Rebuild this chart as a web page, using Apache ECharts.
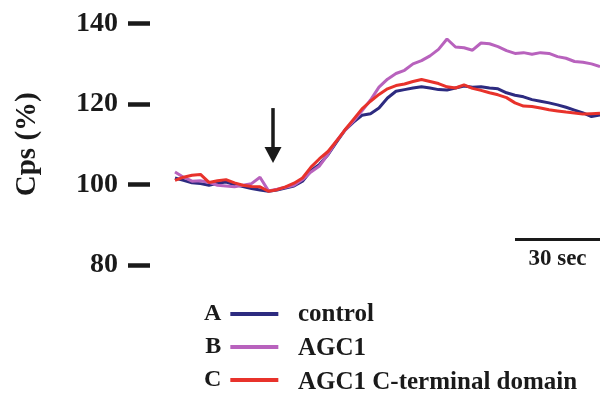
<!DOCTYPE html>
<html>
<head>
<meta charset="utf-8">
<script src="https://cdn.jsdelivr.net/npm/echarts@6/dist/echarts.min.js"></script>
<style>html,body{margin:0;padding:0;background:#fff}#c{width:600px;height:399px}</style>
</head>
<body>
<div id="c"></div>
<script>
// time (sec) sampled every 3 s
var times = [0,3,6,9,12,15,18,21,24,27,30,33,36,39,42,45,48,51,54,57,60,63,66,69,72,75,78,81,84,87,90,93,96,99,102,105,108,111,114,117,120,123,126,129,132,135,138,141,144,147,150];
var controlVals = [101.6,101.0,100.4,100.2,99.8,100.3,100.6,100.0,99.5,99.0,98.6,98.3,98.6,99.1,99.6,100.8,103.4,105.0,107.4,110.5,113.5,115.5,117.2,117.6,119.0,121.5,123.2,123.6,124.0,124.3,124.0,123.6,123.5,124.0,124.5,124.2,124.3,124.0,123.8,122.8,122.2,121.8,121.1,120.7,120.3,119.8,119.2,118.5,117.8,116.9,117.3];
var agc1Vals = [103.1,101.8,100.8,100.9,100.5,99.8,99.6,99.4,99.8,100.2,101.8,98.4,98.8,99.3,99.8,101.2,103.1,104.6,107.5,110.8,113.5,115.8,118.3,121.0,124.2,126.2,127.6,128.4,130.0,130.8,132.0,133.6,136.2,134.2,134.0,133.4,135.2,135.0,134.3,133.3,132.6,132.8,132.4,132.8,132.6,131.8,131.4,130.6,130.4,130.0,129.3];
var ctermVals = [101.0,101.8,102.3,102.5,100.5,100.9,101.2,100.4,99.8,99.5,99.4,98.3,98.7,99.4,100.3,101.6,104.3,106.4,108.2,110.8,113.6,116.2,118.8,120.7,122.4,123.8,124.6,125.0,125.6,126.1,125.6,125.1,124.3,124.0,124.8,123.9,123.4,122.8,122.3,121.6,120.3,119.5,119.4,119.0,118.6,118.3,118.0,117.8,117.5,117.6,117.7];
var seriesNames = ['control','AGC1','AGC1 C-terminal domain'];
var seriesLetters = ['A','B','C'];
var yTicks = [80,100,120,140];
var xRange = [-8.82, 150];
var arrowTime = 34.6, arrowFrom = 119.0, arrowTo = 107.3;
var scaleBarFrom = 120, scaleBarTo = 150, scaleBarY = 86.4, scaleBarLabel = '30 sec';

var FONT = "'Liberation Serif','Times New Roman',serif";
var colors = ['#2d2b80','#b862bd','#e8322b'];
function pairs(v){ return times.map(function(t,i){return [t, v[i]];}); }
var vals = [controlVals, agc1Vals, ctermVals];
var letterMap = {};
seriesNames.forEach(function(n,i){ letterMap[n] = seriesLetters[i]; });

var series = seriesNames.map(function(n,i){
  return {
    name: n, type: 'line', data: pairs(vals[i]), showSymbol: false, symbol: 'none',
    lineStyle: {color: colors[i], width: 3}, itemStyle: {color: colors[i]},
    z: 2 + i, animation: false
  };
});
series[2].markLine = {
  silent: true, animation: false,
  data: [
    [{coord: [arrowTime, arrowFrom], symbol: 'none', lineStyle: {color: '#1a1a1a', width: 3.5}, label: {show: false}},
     {coord: [arrowTime, arrowTo], symbol: 'triangle', symbolSize: [17, 16]}],
    [{coord: [scaleBarFrom, scaleBarY], symbol: 'none', lineStyle: {color: '#1a1a1a', width: 3},
      label: {show: true, formatter: scaleBarLabel, position: 'insideMiddleBottom', distance: 8, fontFamily: FONT, fontWeight: 'bold', fontSize: 23, color: '#1a1a1a'}},
     {coord: [scaleBarTo, scaleBarY], symbol: 'none'}]
  ],
  lineStyle: {color: '#1a1a1a', width: 3, type: 'solid'},
  label: {show: false}
};

var chart = echarts.init(document.getElementById('c'), null, {renderer: 'canvas'});
chart.setOption({
  animation: false,
  backgroundColor: '#fff',
  grid: {left: 150, right: 0, top: 23.7, bottom: 134.2, containLabel: false},
  xAxis: {type: 'value', min: xRange[0], max: xRange[1], show: false},
  yAxis: {
    type: 'value', min: yTicks[0], max: yTicks[yTicks.length-1], interval: 20,
    axisLine: {show: false, onZero: false},
    axisTick: {show: true, length: 22, lineStyle: {color: '#1a1a1a', width: 4.5}},
    splitLine: {show: false},
    axisLabel: {margin: 32, fontFamily: FONT, fontWeight: 'bold', fontSize: 28, color: '#1a1a1a'},
    name: 'Cps (%)', nameLocation: 'middle', nameGap: 108, nameRotate: 90,
    nameTextStyle: {fontFamily: FONT, fontWeight: 'bold', fontSize: 29, color: '#1a1a1a'}
  },
  legend: [
    {
      data: seriesNames, orient: 'vertical', left: 204, top: 302, padding: 0, align: 'right',
      icon: 'rect', itemWidth: 48, itemHeight: 4, itemGap: 9, selectedMode: false,
      formatter: function(n){ return '{l|' + letterMap[n] + '}'; },
      textStyle: {fontFamily: FONT, fontWeight: 'bold', fontSize: 24, lineHeight: 24, color: '#1a1a1a',
        rich: {l: {fontFamily: FONT, fontWeight: 'bold', fontSize: 24, lineHeight: 24, color: '#1a1a1a', padding: [0, 4, 0, 0]}}}
    },
    {
      data: seriesNames, orient: 'vertical', left: 293, top: 302, padding: 0, align: 'left',
      icon: 'rect', itemWidth: 0, itemHeight: 0, itemGap: 9, selectedMode: false,
      textStyle: {fontFamily: FONT, fontWeight: 'bold', fontSize: 25, lineHeight: 24, color: '#1a1a1a'}
    }
  ],
  series: series
});
</script>
</body>
</html>
